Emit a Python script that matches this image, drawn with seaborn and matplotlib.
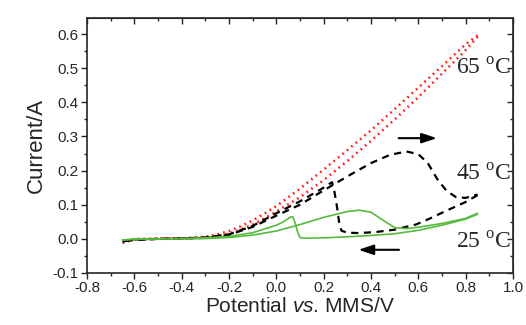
import numpy as np
import matplotlib
matplotlib.use("Agg")
import matplotlib.pyplot as plt
from matplotlib.ticker import MultipleLocator, FormatStrFormatter
import seaborn as sns

sns.set_style("ticks")
plt.rcParams['font.family'] = ['Liberation Sans', 'DejaVu Sans']
plt.rcParams['mathtext.fontset'] = 'custom'
plt.rcParams['mathtext.rm'] = 'Liberation Serif'
plt.rcParams['mathtext.it'] = 'Liberation Sans:italic'

# 65 C, two nearly overlapping scans
red_fwd_x = [-0.65, -0.6, -0.5, -0.4, -0.3, -0.25, -0.2, -0.15, -0.1, -0.05, 0.0, 0.1, 0.2, 0.3, 0.4, 0.5, 0.6, 0.7, 0.8, 0.85]
red_fwd_y = [-0.012, -0.002, 0.0, 0.001, 0.004, 0.008, 0.016, 0.027, 0.042, 0.06, 0.08, 0.122, 0.172, 0.228, 0.287, 0.35, 0.415, 0.484, 0.553, 0.592]
red_rev_x = [0.85, 0.8, 0.7, 0.6, 0.5, 0.4, 0.3, 0.2, 0.1, 0.0, -0.05, -0.1, -0.15, -0.2, -0.25, -0.3, -0.4, -0.5, -0.6, -0.65]
red_rev_y = [0.596, 0.57, 0.506, 0.443, 0.38, 0.318, 0.26, 0.203, 0.147, 0.096, 0.074, 0.054, 0.037, 0.023, 0.013, 0.006, 0.002, 0.001, 0.0, -0.006]

# 45 C
blk_fwd_x = [-0.65, -0.6, -0.5, -0.4, -0.3, -0.2, -0.1, 0.0, 0.1, 0.2, 0.3, 0.4, 0.48, 0.55, 0.6, 0.64, 0.68, 0.72, 0.76, 0.8, 0.85]
blk_fwd_y = [-0.008, -0.002, 0.0, 0.001, 0.003, 0.012, 0.035, 0.068, 0.1, 0.142, 0.183, 0.222, 0.246, 0.256, 0.248, 0.222, 0.175, 0.14, 0.122, 0.12, 0.13]
blk_rev_x = [0.85, 0.8, 0.72, 0.65, 0.59, 0.5, 0.42, 0.35, 0.3, 0.275, 0.265, 0.255, 0.245, 0.235, 0.2, 0.1, 0.0, -0.1, -0.2, -0.3, -0.4, -0.5, -0.65]
blk_rev_y = [0.128, 0.108, 0.083, 0.06, 0.042, 0.027, 0.02, 0.017, 0.018, 0.024, 0.05, 0.1, 0.14, 0.166, 0.15, 0.11, 0.075, 0.038, 0.013, 0.004, 0.001, 0.0, -0.006]

# 25 C
grn_fwd_x = [-0.65, -0.6, -0.5, -0.4, -0.3, -0.2, -0.1, 0.0, 0.1, 0.2, 0.3, 0.35, 0.4, 0.45, 0.5, 0.55, 0.6, 0.7, 0.8, 0.85]
grn_fwd_y = [-0.004, 0.0, 0.0, 0.0, 0.001, 0.004, 0.011, 0.023, 0.042, 0.063, 0.08, 0.084, 0.078, 0.055, 0.033, 0.03, 0.034, 0.045, 0.06, 0.075]
grn_rev_x = [0.85, 0.8, 0.7, 0.6, 0.5, 0.4, 0.3, 0.2, 0.12, 0.1, 0.09, 0.08, 0.07, 0.06, 0.03, 0.0, -0.1, -0.2, -0.3, -0.4, -0.5, -0.65]
grn_rev_y = [0.072, 0.058, 0.04, 0.025, 0.015, 0.01, 0.006, 0.003, 0.002, 0.004, 0.02, 0.046, 0.064, 0.064, 0.05, 0.04, 0.018, 0.007, 0.003, 0.001, 0.0, -0.003]

labels = ['65 $^{\\mathrm{o}}$C', '45 $^{\\mathrm{o}}$C', '25 $^{\\mathrm{o}}$C']

fig = plt.figure(figsize=(5.26, 3.25), dpi=100)
ax = fig.add_axes([87/526, 1-273/325, 426/526, 255/325])

red = '#ff1a1a'
green = '#55bb3c'
for xs, ys in [(red_fwd_x, red_fwd_y), (red_rev_x, red_rev_y)]:
    sns.lineplot(x=xs, y=ys, sort=False, estimator=None, ax=ax, color=red,
                 lw=1.8, linestyle=(0, (0.7, 1.6)))
for xs, ys in [(blk_fwd_x, blk_fwd_y), (blk_rev_x, blk_rev_y)]:
    sns.lineplot(x=xs, y=ys, sort=False, estimator=None, ax=ax, color='black',
                 lw=1.6, linestyle=(0, (3.2, 2.5)))
for xs, ys in [(grn_fwd_x, grn_fwd_y), (grn_rev_x, grn_rev_y)]:
    sns.lineplot(x=xs, y=ys, sort=False, estimator=None, ax=ax, color=green, lw=1.2)

ax.set_xlim(-0.8, 1.0)
ax.set_ylim(-0.1, 0.647)
ax.xaxis.set_major_locator(MultipleLocator(0.2))
ax.xaxis.set_minor_locator(MultipleLocator(0.1))
ax.yaxis.set_major_locator(MultipleLocator(0.1))
ax.yaxis.set_minor_locator(MultipleLocator(0.05))
ax.xaxis.set_major_formatter(FormatStrFormatter('%.1f'))
ax.yaxis.set_major_formatter(FormatStrFormatter('%.1f'))
ax.tick_params(which='major', direction='out', length=4, width=1, labelsize=11, pad=2)
ax.tick_params(which='minor', direction='out', length=2.5, width=1)
for s in ax.spines.values():
    s.set_linewidth(1.2)

top = ax.secondary_xaxis('top')
top.xaxis.set_major_locator(MultipleLocator(0.2))
top.xaxis.set_minor_locator(MultipleLocator(0.1))
top.tick_params(which='major', direction='in', length=4, width=1, labeltop=False)
top.tick_params(which='minor', direction='in', length=2.5, width=1)
right = ax.secondary_yaxis('right')
right.yaxis.set_major_locator(MultipleLocator(0.1))
right.yaxis.set_minor_locator(MultipleLocator(0.05))
right.tick_params(which='major', direction='in', length=4, width=1, labelright=False)
right.tick_params(which='minor', direction='in', length=2.5, width=1)

ax.set_xlabel('Potential $\\mathit{vs}$. MMS/V', fontsize=15, labelpad=1)
ax.set_ylabel('Current/A', fontsize=16, labelpad=4)

lab_y = [0.50, 0.19, -0.01]
for t, yy in zip(labels, lab_y):
    ax.text(0.99, yy, t, ha='right', va='center', fontsize=17,
            family=['Liberation Serif', 'DejaVu Serif'])
ax.annotate('', xy=(0.69, 0.295), xytext=(0.505, 0.295),
            arrowprops=dict(arrowstyle='-|>,head_length=0.9,head_width=0.3', color='black', lw=1.5))
ax.annotate('', xy=(0.335, -0.032), xytext=(0.53, -0.032),
            arrowprops=dict(arrowstyle='-|>,head_length=0.9,head_width=0.3', color='black', lw=1.5))

fig.savefig('out.png', dpi=100)
